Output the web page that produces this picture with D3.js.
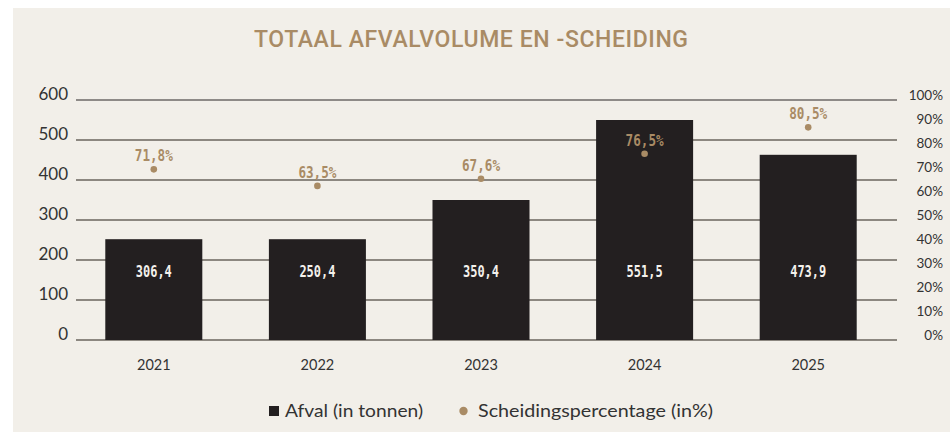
<!DOCTYPE html>
<html><head><meta charset="utf-8">
<script src="https://cdn.jsdelivr.net/npm/d3@7"></script>
<style>
html,body{margin:0;padding:0;background:#ffffff;}
svg{display:block;}
</style></head>
<body>
<svg id="chart" width="950" height="433"></svg>
<script>
const title = "TOTAAL AFVALVOLUME EN -SCHEIDING";
const years = ["2021","2022","2023","2024","2025"];
// bar heights as drawn in the picture (tonnes)
const afval = [252, 252, 350, 550, 463];
const afvalLabels = ["306,4","250,4","350,4","551,5","473,9"];
// dot positions as drawn in the picture (%)
const scheiding = [71.1, 64.2, 67.2, 77.6, 88.6];
const scheidingLabels = ["71,8%","63,5%","67,6%","76,5%","80,5%"];
const leftTicks = [0,100,200,300,400,500,600];
const rightTicks = [0,10,20,30,40,50,60,70,80,90,100];
const legendLabels = ["Afval (in tonnen)","Scheidingspercentage (in%)"];

const gold = "#a98b65", dark = "#231f20", bg = "#f2efe9";
const svg = d3.select("#chart");
svg.append("rect").attr("x",13).attr("y",8).attr("width",937).attr("height",424).attr("fill",bg);

svg.append("text").attr("x",471).attr("y",47).attr("text-anchor","middle")
  .attr("font-family","Roboto, Lato, sans-serif").attr("font-weight",500)
  .attr("font-size",23).attr("fill",gold).attr("textLength",434).attr("lengthAdjust","spacing")
  .text(title);

const x = d3.scaleBand().domain(years).range([72,890]).paddingInner(0.407).paddingOuter(0.2035);
const y = d3.scaleLinear().domain([0,600]).range([340,100]);
const yp = d3.scaleLinear().domain([0,100]).range([340,100]);

// grid
svg.append("g").selectAll("line").data(leftTicks).join("line")
  .attr("x1",76).attr("x2",897).attr("y1",d=>y(d)).attr("y2",d=>y(d))
  .attr("stroke",d=>d===600?"#2a2626":"#8c8780").attr("stroke-width",d=>d===600?1.2:1.8);

// left axis labels
svg.append("g").selectAll("text").data(leftTicks).join("text")
  .attr("x",68).attr("y",d=>y(d)-6).attr("dy","0.35em").attr("text-anchor","end")
  .attr("font-family","Lato, 'Open Sans', sans-serif").attr("font-size",17).attr("fill","#333")
  .text(d=>d);

// right axis labels
svg.append("g").selectAll("text").data(rightTicks).join("text")
  .attr("x",943).attr("y",d=>yp(d)-4.5).attr("dy","0.35em").attr("text-anchor","end")
  .attr("font-family","Lato, 'Open Sans', sans-serif").attr("font-size",13.5).attr("fill","#333")
  .text(d=>d+"%");

// bars
svg.append("g").selectAll("rect").data(years).join("rect")
  .attr("x",d=>x(d)).attr("width",x.bandwidth())
  .attr("y",(d,i)=>y(afval[i])).attr("height",(d,i)=>y(0)-y(afval[i]))
  .attr("fill",dark);

// bar labels
svg.append("g").selectAll("text").data(years).join("text")
  .attr("x",d=>x(d)+x.bandwidth()/2).attr("y",y(170)).attr("dy","0.35em").attr("text-anchor","middle")
  .attr("font-family","'DejaVu Sans Mono', monospace").attr("font-weight",700)
  .attr("font-size",15.5).attr("fill","#f4f1ec").attr("textLength",36).attr("lengthAdjust","spacingAndGlyphs")
  .text((d,i)=>afvalLabels[i]);

// dots
svg.append("g").selectAll("circle").data(years).join("circle")
  .attr("cx",d=>x(d)+x.bandwidth()/2).attr("cy",(d,i)=>yp(scheiding[i])).attr("r",3.3).attr("fill",gold);

svg.append("g").selectAll("text").data(years).join("text")
  .attr("x",d=>x(d)+x.bandwidth()/2).attr("y",(d,i)=>yp(scheiding[i])-13.5).attr("dy","0.35em").attr("text-anchor","middle")
  .attr("font-family","'DejaVu Sans Mono', monospace").attr("font-weight",700)
  .attr("font-size",15.5).attr("fill",gold).attr("textLength",38).attr("lengthAdjust","spacingAndGlyphs")
  .text((d,i)=>scheidingLabels[i]);

// year labels
svg.append("g").selectAll("text").data(years).join("text")
  .attr("x",d=>x(d)+x.bandwidth()/2).attr("y",365).attr("dy","0.35em").attr("text-anchor","middle")
  .attr("font-family","Lato, 'Open Sans', sans-serif").attr("font-size",14.5).attr("fill","#333")
  .text(d=>d);

// legend
const lg = svg.append("g");
lg.append("rect").attr("x",269).attr("y",406).attr("width",10).attr("height",10).attr("fill",dark);
lg.append("text").attr("x",285).attr("y",411.5).attr("dy","0.35em")
  .attr("font-family","Lato, 'Open Sans', sans-serif").attr("font-size",16.5).attr("fill","#333")
  .attr("textLength",138).attr("lengthAdjust","spacingAndGlyphs").text(legendLabels[0]);
lg.append("circle").attr("cx",463.5).attr("cy",411).attr("r",4.2).attr("fill",gold);
lg.append("text").attr("x",478).attr("y",411.5).attr("dy","0.35em")
  .attr("font-family","Lato, 'Open Sans', sans-serif").attr("font-size",16.5).attr("fill","#333")
  .attr("textLength",235).attr("lengthAdjust","spacingAndGlyphs").text(legendLabels[1]);
</script>
</body></html>
